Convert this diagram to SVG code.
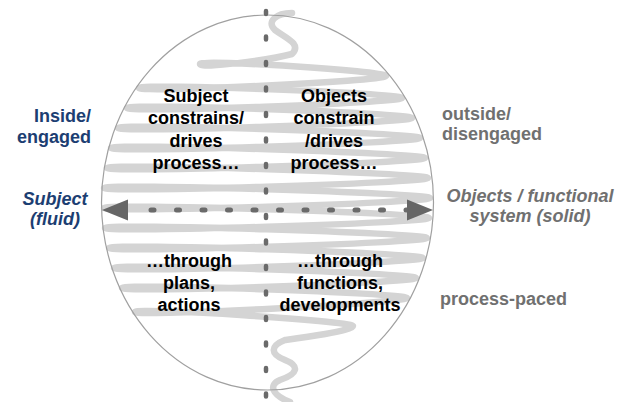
<svg xmlns="http://www.w3.org/2000/svg" width="627" height="402" viewBox="0 0 627 402">
<style>
text{font-family:"Liberation Sans",Arial,sans-serif;font-weight:bold;font-size:18px}
.c{text-anchor:middle;fill:#000}
.navy{fill:#1c3e72}
.gray{fill:#707070}
.it{font-style:italic}
.band{fill:none;stroke:#d4d4d4;stroke-width:6.5;stroke-linecap:round;stroke-linejoin:round}
.dash{fill:none;stroke:#6a6a6a;stroke-linecap:round;stroke-dasharray:3 22.5}
</style>
<rect width="627" height="402" fill="#fff"/>
<g id="swirl">
<path class="band" d="M292 13 C276 13 266 22 275 30 C286 38 302 44 292 54 C270 60 200 69 200 64
C200 59 386 71 386 76
C386 81 139 93 139 88
C139 83 402 93 402 98
C402 103 127 113 127 108
C127 103 412 113 412 118
C412 123 118 133 118 128
C118 123 420 133 420 138
C420 143 111 153 111 148
C111 143 425 153 425 158
C425 163 107 173 107 168
C107 163 428 173 428 178
C428 183 104 193 104 188
C104 183 430 193 430 198
C430 203 104 213 104 208
C104 203 429 213 429 218
C429 223 105 233 105 228
C105 223 427 233 427 238
C427 243 109 253 109 248
C109 243 423 253 423 258
C423 263 114 273 114 268
C114 263 416 273 416 278
C416 283 122 293 122 288
C122 283 407 293 407 298
C407 303 135 317 135 312
C135 307 353 321 353 326
C353 331 300 338 285 340
C270 346 270 354 285 360
C300 366 298 374 280 380
C268 385 272 395 290 402"/>
</g>
<g id="sphere">
<ellipse cx="267.5" cy="202.5" rx="166" ry="187.5" fill="none" stroke="#a0a0a0" stroke-width="1.2"/>
</g>
<g id="connectors">
<line class="dash" x1="266" y1="11" x2="266" y2="402" stroke-width="4.5"/>
<line class="dash" x1="151" y1="210" x2="408" y2="210" stroke-width="5"/>
<polygon points="102,210 128,199.5 128,220.5" fill="#666"/>
<polygon points="433,210 407,199.5 407,220.5" fill="#666"/>
</g>
<g id="q-subject-top">
<text class="c" x="196" y="102">Subject</text>
<text class="c" x="196" y="124">constrains/</text>
<text class="c" x="196" y="147">drives</text>
<text class="c" x="196" y="169">process…</text>
</g>
<g id="q-objects-top">
<text class="c" x="334" y="102">Objects</text>
<text class="c" x="334" y="124">constrain</text>
<text class="c" x="334" y="147">/drives</text>
<text class="c" x="334" y="169">process…</text>
</g>
<g id="q-subject-bottom">
<text class="c" x="189" y="267">…through</text>
<text class="c" x="189" y="289">plans,</text>
<text class="c" x="189" y="311">actions</text>
</g>
<g id="q-objects-bottom">
<text class="c" x="340" y="267">…through</text>
<text class="c" x="340" y="289">functions,</text>
<text class="c" x="340" y="311">developments</text>
</g>
<g id="label-inside">
<text class="navy" x="91" y="122" text-anchor="end">Inside/</text>
<text class="navy" x="91" y="143" text-anchor="end">engaged</text>
</g>
<g id="label-subject">
<text class="navy it" x="55" y="205" text-anchor="middle">Subject</text>
<text class="navy it" x="55" y="225" text-anchor="middle">(fluid)</text>
</g>
<g id="label-outside">
<text class="gray" x="442" y="120">outside/</text>
<text class="gray" x="442" y="140">disengaged</text>
</g>
<g id="label-objects">
<text class="gray it" x="530" y="202" text-anchor="middle">Objects / functional</text>
<text class="gray it" x="530" y="222" text-anchor="middle">system (solid)</text>
</g>
<g id="label-paced">
<text class="gray" x="440" y="305">process-paced</text>
</g>
</svg>
